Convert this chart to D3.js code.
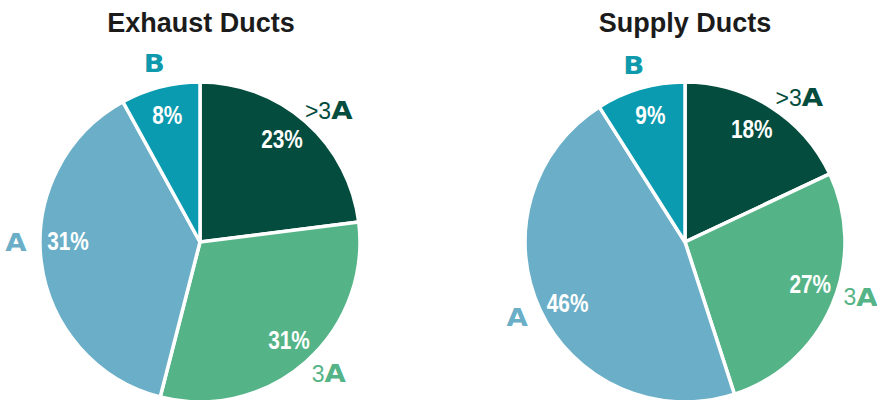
<!DOCTYPE html>
<html>
<head>
<meta charset="utf-8">
<script src="https://cdn.jsdelivr.net/npm/d3@7"></script>
<style>
  html, body { margin: 0; padding: 0; background: #ffffff; }
  svg { display: block; }
</style>
</head>
<body>
<svg id="chart" width="877" height="400"></svg>
<script>
// ---- data ----
const chartTitles = ["Exhaust Ducts", "Supply Ducts"];
const categories = [">3A", "3A", "A", "B"];
// slice sizes as drawn in the reference (percent of the circle)
const exhaustShares = [23, 31, 38, 8];
const supplyShares  = [18, 27, 46, 9];
// printed labels
const exhaustLabels = ["23%", "31%", "31%", "8%"];
const supplyLabels  = ["18%", "27%", "46%", "9%"];

// ---- style / layout ----
const sliceColors = {">3A": "#044c3d", "3A": "#55b487", "A": "#6aafc7", "B": "#0a9bb0"};
const labelColors = {">3A": "#044c3d", "3A": "#55b487", "A": "#6aafc7", "B": "#0e9aac"};
const layout = [
  {cx: 200, cy: 242, titleX: 201, pctNudge: [-3, -1, 8, 0], outNudge: [3, -3, 7, 0]},
  {cx: 685, cy: 242, titleX: 685, pctNudge: [-2, -5, -2, 1], outNudge: [6, -6, 1, 0]}
];
const R = 160;
const datasets = [
  {shares: exhaustShares, labels: exhaustLabels},
  {shares: supplyShares, labels: supplyLabels}
];

const svg = d3.select("#chart");
const pie = d3.pie().sort(null).value(d => d.v);
const arc = d3.arc().innerRadius(0).outerRadius(R);
const toRad = Math.PI / 180;
const pctScale = 0.8;
const heavyScale = 1.15;

datasets.forEach((ds, i) => {
  const L = layout[i];
  const rows = categories.map((c, k) => ({cat: c, v: ds.shares[k], label: ds.labels[k]}));
  const arcs = pie(rows);

  svg.append("text")
    .attr("x", L.titleX).attr("y", 32)
    .attr("text-anchor", "middle")
    .attr("font-family", "'Liberation Sans', Arial, sans-serif")
    .attr("font-weight", "bold")
    .attr("font-size", 27)
    .attr("fill", "#1b1b1b")
    .text(chartTitles[i]);

  const g = svg.append("g").attr("transform", `translate(${L.cx},${L.cy})`);

  g.selectAll("path.slice").data(arcs).join("path")
    .attr("class", "slice")
    .attr("d", arc)
    .attr("fill", d => sliceColors[d.data.cat])
    .attr("stroke", "#ffffff")
    .attr("stroke-width", 3.5)
    .attr("stroke-linejoin", "miter");

  // percent labels inside
  g.selectAll("text.pct").data(arcs).join("text")
    .attr("class", "pct")
    .attr("transform", (d, k) => {
      const a = (d.startAngle + d.endAngle) / 2 + L.pctNudge[k] * toRad;
      const r = 132;
      return `translate(${r * Math.sin(a)},${-r * Math.cos(a)}) scale(${pctScale},1)`;
    })
    .attr("dy", "0.36em")
    .attr("text-anchor", "middle")
    .attr("font-family", "'Liberation Sans', Arial, sans-serif")
    .attr("font-weight", "bold")
    .attr("font-size", 26)
    .attr("fill", "#ffffff")
    .text(d => d.data.label);

  // category labels outside
  const out = g.selectAll("g.cat").data(arcs).join("g")
    .attr("class", "cat")
    .attr("transform", (d, k) => {
      const a = (d.startAngle + d.endAngle) / 2 + L.outNudge[k] * toRad;
      const r = 184;
      return `translate(${r * Math.sin(a)},${-r * Math.cos(a)})`;
    });
  out.each(function(d) {
    const grp = d3.select(this);
    const cat = d.data.cat;
    const prefix = cat.slice(0, -1);
    const last = cat.slice(-1);
    const col = labelColors[cat];
    let pw = 0;
    let pre = null;
    if (prefix) {
      pre = grp.append("text")
        .attr("dy", "0.36em")
        .attr("font-family", "'Liberation Sans', Arial, sans-serif")
        .attr("font-size", 23)
        .attr("fill", col)
        .text(prefix);
      pw = pre.node().getComputedTextLength();
    }
    const heavy = grp.append("text")
      .attr("dy", "0.36em")
      .attr("font-family", "'DejaVu Sans', sans-serif")
      .attr("font-weight", "bold")
      .attr("font-size", 24)
      .attr("fill", col)
      .text(last);
    const hw = heavy.node().getComputedTextLength() * heavyScale;
    const total = pw + hw;
    const x0 = -total / 2;
    if (pre) pre.attr("x", x0);
    heavy.attr("transform", `translate(${x0 + pw},0) scale(${heavyScale},1)`);
  });
});
</script>
</body>
</html>
